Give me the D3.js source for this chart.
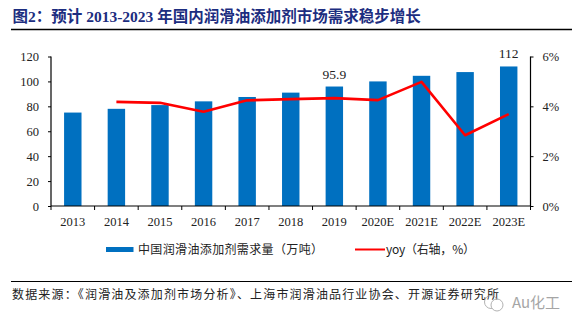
<!DOCTYPE html>
<html>
<head>
<meta charset="utf-8">
<script src="https://cdn.jsdelivr.net/npm/d3@7"></script>
<style>
  body { margin: 0; background: #fff; }
  svg text { font-family: "Liberation Serif", "Noto Sans CJK SC", serif; }
  .cjk { font-family: "Noto Sans CJK SC", sans-serif; }
</style>
</head>
<body>
<svg id="chart" width="576" height="329"></svg>
<script>
// demand (10k tonnes) and yoy growth (%)
var years = ["2013", "2014", "2015", "2016", "2017", "2018", "2019", "2020E", "2021E", "2022E", "2023E"];
var demand = [75, 78, 81, 84, 87.5, 91, 95.9, 100, 104.5, 107.5, 112];
var yoy = [null, 4.18, 4.14, 3.78, 4.24, 4.29, 4.33, 4.25, 4.98, 2.84, 3.69];
var leftTicks = [0, 20, 40, 60, 80, 100, 120];
var rightTicks = [0, 2, 4, 6];
var labelled = ["2019", "2023E"];

var svg = d3.select("#chart"),
    margin = {top: 56.5, left: 51, right: 45.5, bottom: 123},
    width = 576 - margin.left - margin.right,
    height = 329 - margin.top - margin.bottom;

// title + rule
svg.append("text")
    .attr("x", 12.5).attr("y", 22)
    .attr("fill", "#1c2d80")
    .attr("font-size", 15.5)
    .attr("font-weight", "bold")
    .text("图2：预计 2013-2023 年国内润滑油添加剂市场需求稳步增长");
svg.append("line")
    .attr("x1", 11).attr("x2", 572).attr("y1", 29.5).attr("y2", 29.5)
    .attr("stroke", "#000").attr("stroke-width", 1.3);

var g = svg.append("g").attr("transform", "translate(" + margin.left + "," + margin.top + ")");

var x = d3.scaleBand().domain(years).range([0, width]).paddingInner(0.6).paddingOuter(0.3);
var y = d3.scaleLinear().domain([0, 120]).range([height, 0]);
var y2 = d3.scaleLinear().domain([0, 6]).range([height, 0]);

// bars
g.selectAll(".bar")
    .data(demand)
  .enter().append("rect")
    .attr("class", "bar")
    .attr("x", function(d, i) { return x(years[i]); })
    .attr("y", function(d) { return y(d); })
    .attr("width", x.bandwidth())
    .attr("height", function(d) { return height - y(d); })
    .attr("fill", "#0070c0");

g.selectAll(".vlabel")
    .data(demand.filter(function(d, i) { return labelled.indexOf(years[i]) >= 0; }))
  .enter().append("text")
    .attr("class", "vlabel")
    .attr("x", function(d) { return x(years[demand.indexOf(d)]) + x.bandwidth() / 2; })
    .attr("y", function(d) { return y(d) - 8; })
    .attr("text-anchor", "middle")
    .attr("font-size", 13.5)
    .attr("fill", "#222")
    .text(function(d) { return d; });

// yoy line on right axis
var line = d3.line()
    .defined(function(d) { return d != null; })
    .x(function(d, i) { return x(years[i]) + x.bandwidth() / 2; })
    .y(function(d) { return y2(d); });
g.append("path")
    .datum(yoy)
    .attr("d", line)
    .attr("fill", "none")
    .attr("stroke", "#ff0000")
    .attr("stroke-width", 2.6)
    .attr("stroke-linejoin", "round");

// axes
var xAxis = g.append("g")
    .attr("transform", "translate(0," + height + ")");
xAxis.append("line")
    .attr("x1", 0).attr("x2", width)
    .attr("stroke", "#000").attr("stroke-width", 1.2);
xAxis.selectAll(".xtick")
    .data(d3.range(years.length + 1))
  .enter().append("line")
    .attr("class", "xtick")
    .attr("x1", function(i) { return i * x.step(); })
    .attr("x2", function(i) { return i * x.step(); })
    .attr("y1", 0).attr("y2", 4)
    .attr("stroke", "#000");
xAxis.selectAll(".xlab")
    .data(years)
  .enter().append("text")
    .attr("class", "xlab")
    .attr("x", function(d) { return x(d) + x.bandwidth() / 2; })
    .attr("y", 20)
    .attr("text-anchor", "middle")
    .attr("font-size", 12.5)
    .attr("fill", "#222")
    .text(function(d) { return d; });

var yAxis = g.append("g")
    .call(d3.axisLeft(y).tickValues(leftTicks).tickSize(3).tickPadding(9));
var yAxis2 = g.append("g")
    .attr("transform", "translate(" + width + ",0)")
    .call(d3.axisRight(y2).tickValues(rightTicks).tickSize(3).tickPadding(9)
      .tickFormat(function(d) { return d + "%"; }));
[yAxis, yAxis2].forEach(function(a) {
  a.select(".domain").attr("stroke", "#000").attr("stroke-width", 1.2)
    .attr("d", "M0," + height + "V0");
  a.selectAll("text").attr("font-size", 12.5).attr("fill", "#222")
    .attr("font-family", "Liberation Serif");
});

// legend
var leg = svg.append("g").attr("transform", "translate(0,249.5)");
leg.append("rect")
    .attr("x", 106).attr("y", -2.5).attr("width", 27.5).attr("height", 5)
    .attr("fill", "#0070c0");
leg.append("text")
    .attr("class", "cjk")
    .attr("x", 138).attr("y", 4.3)
    .attr("font-size", 12).attr("fill", "#222")
    .attr("textLength", 185).attr("lengthAdjust", "spacing")
    .text("中国润滑油添加剂需求量（万吨）");
leg.append("line")
    .attr("x1", 355).attr("x2", 385).attr("y1", 0).attr("y2", 0)
    .attr("stroke", "#ff0000").attr("stroke-width", 2);
leg.append("text")
    .attr("class", "cjk")
    .attr("x", 386).attr("y", 4.3)
    .attr("font-size", 12).attr("fill", "#222")
    .attr("textLength", 89).attr("lengthAdjust", "spacing")
    .text("yoy（右轴，%）");

// source footer
svg.append("line")
    .attr("x1", 11).attr("x2", 572).attr("y1", 281.5).attr("y2", 281.5)
    .attr("stroke", "#000").attr("stroke-width", 1);
svg.append("text")
    .attr("class", "cjk")
    .attr("x", 12).attr("y", 298.5)
    .attr("font-size", 12).attr("fill", "#222")
    .attr("textLength", 487).attr("lengthAdjust", "spacing")
    .text("数据来源：《润滑油及添加剂市场分析》、上海市润滑油品行业协会、开源证券研究所");

// watermark
var wm = svg.append("g").attr("transform", "translate(491,302)").attr("opacity", 0.75);
wm.append("circle").attr("r", 6.5).attr("fill", "none").attr("stroke", "#999").attr("stroke-width", 1);
wm.append("circle").attr("cx", 6).attr("cy", 3).attr("r", 6).attr("fill", "#fff").attr("stroke", "#999").attr("stroke-width", 1);
wm.append("text")
    .attr("class", "cjk")
    .attr("x", 21).attr("y", 5.5)
    .attr("font-size", 15).attr("fill", "#888")
    .text("Au化工");
</script>
</body>
</html>
